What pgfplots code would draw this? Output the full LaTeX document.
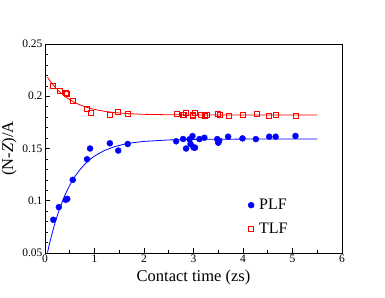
\documentclass[border=0pt]{standalone}
\usepackage{pgfplots}
\pgfplotsset{compat=1.18}
\usepackage{fontspec}
\setmainfont{Liberation Serif}
\begin{document}
\begin{tikzpicture}
\useasboundingbox (-45bp,-45bp) rectangle (340bp,253bp);
\begin{axis}[
  scale only axis, width=297bp, height=209bp,
  at={(0,0)}, anchor=south west,
  xmin=0, xmax=6, ymin=0.05, ymax=0.25,
  xtick={0,1,2,3,4,5,6}, ytick={0.05,0.1,0.15,0.2,0.25},
  yticklabels={0.05,0.1,0.15,0.2,0.25},
  minor x tick num=1, minor y tick num=4,
  tick align=inside, xtick pos=bottom, ytick pos=left,
  major tick length=5bp, minor tick length=3bp,
  tick style={black, line width=0.6pt},
  axis line style={line width=0.8pt},
  /pgf/number format/assume math mode=true,
  ticklabel style={font=\fontsize{11.5bp}{13bp}\selectfont},
  xticklabel style={yshift=1.5bp},
  yticklabel style={xshift=1bp},
  xlabel={Contact time (zs)}, ylabel={(N-\textit{Z})/A},
  label style={font=\fontsize{16.5bp}{18bp}\selectfont},
  xlabel style={yshift=0bp},
  ylabel style={yshift=-1bp},
  legend style={draw=none, fill=none, font=\fontsize{16bp}{18bp}\selectfont,
    at={(axis cs:4.04,0.1055)}, anchor=north west, row sep=8bp},
  legend cell align=left,
]
\addplot[only marks, mark=*, blue, mark size=3bp] coordinates {
(0.168,0.0818)(0.28,0.0939)(0.42,0.1009)(0.45,0.1018)(0.56,0.120)
(0.85,0.1397)(0.91,0.150)(1.31,0.155)(1.48,0.148)(1.67,0.1543)
(2.65,0.1569)(2.79,0.1591)(2.85,0.150)(2.92,0.1588)(2.98,0.1619)
(2.94,0.1543)(3.0,0.151)(3.03,0.1508)(3.12,0.159)(3.22,0.1603)
(3.48,0.159)(3.50,0.1555)(3.52,0.1575)(3.70,0.1613)(3.99,0.1597)
(4.26,0.159)(4.53,0.1613)(4.66,0.1613)(5.06,0.162)
};
\addlegendentry{\hspace{3bp}PLF}
\addplot[only marks, mark=square, red, mark size=2.5bp, line width=0.7pt] coordinates {
(0.168,0.2095)(0.29,0.2054)(0.42,0.2029)(0.45,0.2019)(0.56,0.1956)
(0.85,0.188)(0.92,0.1842)(1.31,0.1825)(1.48,0.185)(1.67,0.1832)
(2.66,0.1828)(2.79,0.182)(2.84,0.1845)(2.81,0.1825)(2.98,0.1825)
(2.99,0.181)(3.03,0.184)(3.14,0.1825)(3.23,0.1816)(3.26,0.1818)
(3.49,0.1835)(3.54,0.1825)(3.71,0.1816)(3.99,0.1825)(4.27,0.1828)
(4.52,0.1816)(4.67,0.182)(5.07,0.1813)
};
\addlegendentry{\hspace{3bp}TLF}
\addplot[blue, line width=0.8pt, forget plot] coordinates {
(0.05,0.0504)(0.1,0.0608)(0.2,0.0786)(0.3,0.0931)(0.4,0.1051)(0.5,0.1149)
(0.6,0.1229)(0.7,0.1294)(0.8,0.1348)(0.9,0.1392)(1.0,0.1428)(1.2,0.1481)
(1.4,0.1517)(1.6,0.1541)(1.8,0.1557)(2.0,0.1568)(2.5,0.1582)(3.0,0.1587)
(4.0,0.1590)(5.5,0.1590)
};
\addplot[red, line width=0.8pt, forget plot] coordinates {
(0.05,0.2182)(0.1,0.2147)(0.2,0.2088)(0.3,0.2040)(0.4,0.1999)(0.5,0.1967)
(0.6,0.1940)(0.7,0.1919)(0.8,0.1901)(0.9,0.1886)(1.0,0.1874)(1.2,0.1856)
(1.4,0.1844)(1.6,0.1836)(1.8,0.1831)(2.0,0.1827)(2.5,0.1823)(3.0,0.1821)
(4.0,0.1820)(5.5,0.1820)
};
\end{axis}
\end{tikzpicture}
\end{document}
